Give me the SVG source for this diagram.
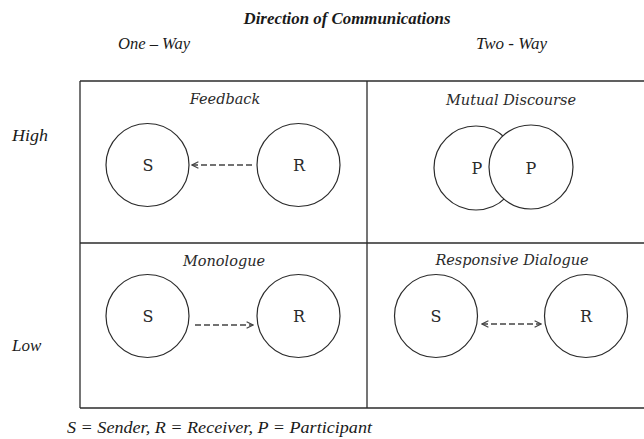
<svg xmlns="http://www.w3.org/2000/svg" width="644" height="439" viewBox="0 0 644 439">
  <style>
    .grid { stroke: #2b2b2b; stroke-width: 1.3; fill: none; }
    .node { stroke: #2b2b2b; stroke-width: 1.2; fill: none; }
    .front { fill: #ffffff; }
    .times { font-family: "Liberation Serif", "Times New Roman", serif; font-style: italic; fill: #1a1a1a; }
    .title { font-weight: bold; font-size: 17px; }
    .axis { font-size: 17px; }
    .cell { font-family: "DejaVu Serif", "Liberation Serif", serif; font-style: italic; font-size: 14.5px; fill: #2a2a2a; text-anchor: middle; }
    .letter { font-family: "DejaVu Serif", "Liberation Serif", serif; font-size: 16px; fill: #2a2a2a; text-anchor: middle; }
    .link { stroke: #444; stroke-width: 1.3; stroke-dasharray: 6 3; fill: none; }
  </style>
  <defs>
    <marker id="chev" viewBox="0 0 10 10" refX="9" refY="5" markerWidth="8" markerHeight="8" markerUnits="userSpaceOnUse" orient="auto-start-reverse">
      <path d="M1,1 L9,5 L1,9" fill="none" stroke="#444" stroke-width="1.4"/>
    </marker>
  </defs>
  <rect width="644" height="439" fill="#ffffff"/>

  <!-- headings -->
  <g id="headings" class="times">
    <text class="title" x="347" y="24" text-anchor="middle" textLength="207" lengthAdjust="spacingAndGlyphs">Direction of Communications</text>
    <text class="axis" x="118" y="49" textLength="72" lengthAdjust="spacingAndGlyphs">One – Way</text>
    <text class="axis" x="547" y="49" text-anchor="end" textLength="71" lengthAdjust="spacingAndGlyphs">Two - Way</text>
    <text class="axis" x="12" y="141" textLength="36" lengthAdjust="spacingAndGlyphs">High</text>
    <text class="axis" x="12" y="351">Low</text>
    <text class="axis" x="67" y="433" textLength="305" lengthAdjust="spacingAndGlyphs">S = Sender, R = Receiver, P = Participant</text>
  </g>

  <!-- 2x2 matrix -->
  <g id="matrix" class="grid">
    <line x1="80" y1="81" x2="644" y2="81"/>
    <line x1="80" y1="243" x2="644" y2="243"/>
    <line x1="80" y1="408" x2="644" y2="408"/>
    <line x1="80" y1="81" x2="80" y2="408"/>
    <line x1="367" y1="81" x2="367" y2="408"/>
  </g>

  <!-- quadrant titles -->
  <g id="quadrant-titles">
    <text class="cell" x="225" y="104">Feedback</text>
    <text class="cell" x="511" y="105">Mutual Discourse</text>
    <text class="cell" x="224" y="266">Monologue</text>
    <text class="cell" x="512" y="265">Responsive Dialogue</text>
  </g>

  <!-- Feedback -->
  <g id="feedback-s">
    <circle class="node" cx="147.5" cy="165" r="41.5"/>
    <text class="letter" x="148" y="171">S</text>
  </g>
  <g id="feedback-r">
    <circle class="node" cx="298.5" cy="165" r="41.5"/>
    <text class="letter" x="299" y="171">R</text>
  </g>

  <!-- Mutual Discourse: the second participant sits in front of the first -->
  <g id="discourse-p1">
    <circle class="node" cx="476" cy="168" r="42"/>
    <text class="letter" x="477" y="174">P</text>
  </g>
  <g id="discourse-p2">
    <circle class="node front" cx="531" cy="167" r="42"/>
    <text class="letter" x="531" y="174">P</text>
  </g>

  <!-- Monologue -->
  <g id="monologue-s">
    <circle class="node" cx="147.5" cy="316" r="41.5"/>
    <text class="letter" x="148" y="322">S</text>
  </g>
  <g id="monologue-r">
    <circle class="node" cx="298.5" cy="316" r="41.5"/>
    <text class="letter" x="299" y="322">R</text>
  </g>

  <!-- Responsive Dialogue -->
  <g id="dialogue-s">
    <circle class="node" cx="436" cy="316" r="41.5"/>
    <text class="letter" x="436" y="322">S</text>
  </g>
  <g id="dialogue-r">
    <circle class="node" cx="586" cy="316" r="41.5"/>
    <text class="letter" x="586" y="322">R</text>
  </g>

  <!-- connectors -->
  <g id="connectors">
    <line class="link" x1="252" y1="165" x2="192" y2="165" marker-end="url(#chev)"/>
    <line class="link" x1="195" y1="325" x2="253" y2="325" marker-end="url(#chev)"/>
    <line class="link" x1="482" y1="324" x2="541" y2="324" marker-start="url(#chev)" marker-end="url(#chev)"/>
  </g>
</svg>
